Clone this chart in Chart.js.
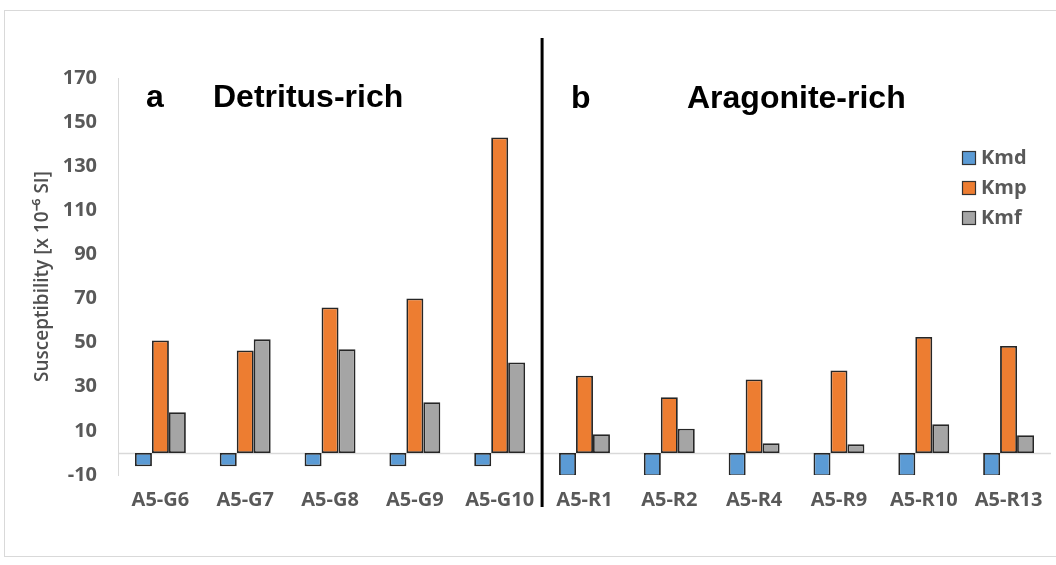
<!DOCTYPE html>
<html lang="en">
<head>
    <meta charset="UTF-8">
    <title>Susceptibility</title>
    <style>
        body { margin: 0; background: #fff; }
        #wrap { position: relative; width: 1056px; height: 565px; }
    </style>
</head>
<body>
<div id="wrap"><canvas id="myChart" width="1056" height="565"></canvas></div>
<script src="https://cdn.jsdelivr.net/npm/chart.js"></script>
<script>
    // samples
    const labels = ['A5-G6', 'A5-G7', 'A5-G8', 'A5-G9', 'A5-G10', 'A5-R1', 'A5-R2', 'A5-R4', 'A5-R9', 'A5-R10', 'A5-R13']
    // values (x 10^-6 SI)
    const kmd = [-6, -6, -6, -6, -6, -10.5, -10.5, -10.5, -10.5, -10.5, -10.5]
    const kmp = [51, 46.5, 66, 70, 143, 35, 25.3, 33.3, 37.4, 52.6, 48.5]
    const kmf = [18.5, 51.5, 47, 23, 41, 8.5, 11, 4.4, 3.9, 13, 8]
    const yTicks = [-10, 10, 30, 50, 70, 90, 110, 130, 150, 170]

    const grey = '#595959'
    const tickFont = { family: 'Open Sans', size: 20, weight: 'bold' }

    const extras = {
        id: 'extras',
        beforeDraw(chart) {
            const c = chart.ctx
            c.save()
            c.fillStyle = '#fff'
            c.fillRect(0, 0, chart.width, chart.height)
            c.strokeStyle = '#d9d9d9'
            c.lineWidth = 1
            c.strokeRect(4.5, 10.5, 1070, 546)
            c.restore()
        },
        beforeDatasetsDraw(chart) {
            // zero line
            const c = chart.ctx
            const y0 = Math.round(chart.scales.y.getPixelForValue(0)) + 0.5
            c.save()
            c.strokeStyle = '#d9d9d9'
            c.lineWidth = 1.5
            c.beginPath()
            c.moveTo(chart.chartArea.left, y0)
            c.lineTo(chart.chartArea.right, y0)
            c.stroke()
            c.restore()
        },
        afterDraw(chart) {
            const c = chart.ctx
            const x = chart.scales.x
            const xs = (x.getPixelForValue(4) + x.getPixelForValue(5)) / 2
            c.save()
            c.strokeStyle = '#000'
            c.lineWidth = 3
            c.beginPath()
            c.moveTo(xs, 38)
            c.lineTo(xs, 507)
            c.stroke()

            c.fillStyle = '#000'
            c.font = 'bold 32px "Liberation Sans", Arial, sans-serif'
            c.textBaseline = 'alphabetic'
            c.fillText('a', 146, 107)
            c.fillText('Detritus-rich', 213, 107)
            c.fillText('b', 571, 108)
            c.fillText('Aragonite-rich', 687, 108)

            // legend
            const items = chart.data.datasets
            c.font = 'bold 20px "Open Sans", sans-serif'
            c.textBaseline = 'middle'
            items.forEach((ds, i) => {
                const yy = 158 + i * 30
                c.fillStyle = ds.backgroundColor
                c.fillRect(962, yy - 7, 14, 14)
                c.strokeStyle = '#333'
                c.lineWidth = 1.2
                c.strokeRect(962.5, yy - 6.5, 13, 13)
                c.fillStyle = grey
                c.fillText(ds.label, 981, yy)
            })
            c.restore()
        }
    }

    function creatChart() {
        const ctx = document.getElementById('myChart')
        new Chart(ctx, {
            type: 'bar',
            data: {
                labels: labels,
                datasets: [
                    { label: 'Kmd', data: kmd, backgroundColor: '#5b9bd5' },
                    { label: 'Kmp', data: kmp, backgroundColor: '#ed7d31' },
                    { label: 'Kmf', data: kmf, backgroundColor: '#a5a5a5' }
                ]
            },
            options: {
                responsive: false,
                animation: false,
                layout: { padding: { left: 24, top: 78, right: 5, bottom: 40 } },
                datasets: {
                    bar: {
                        categoryPercentage: 0.6,
                        barPercentage: 1,
                        borderColor: '#262626',
                        borderWidth: 1.8,
                        borderSkipped: false
                    }
                },
                plugins: {
                    legend: { display: false },
                    tooltip: { enabled: false }
                },
                scales: {
                    x: {
                        grid: { display: false, drawTicks: false },
                        border: { display: false },
                        ticks: { color: grey, font: tickFont, padding: 13, maxRotation: 0, autoSkip: false },
                        afterFit(s) { s.height = 50 }
                    },
                    y: {
                        min: -10,
                        max: 170,
                        afterBuildTicks(s) { s.ticks = yTicks.map(v => ({ value: v })) },
                        grid: { display: false, drawTicks: false },
                        border: { display: true, color: '#d9d9d9', width: 1 },
                        ticks: { color: grey, font: tickFont, padding: 21 },
                        title: {
                            display: true,
                            text: 'Susceptibility [x 10\u207B\u2076 SI]',
                            color: '#505050',
                            font: { family: 'Open Sans', size: 19, weight: '600' },
                            padding: { top: 7, bottom: 0 }
                        },
                        afterFit(s) { s.width = 94 }
                    }
                }
            },
            plugins: [extras]
        })
    }
    creatChart()
</script>
</body>
</html>
